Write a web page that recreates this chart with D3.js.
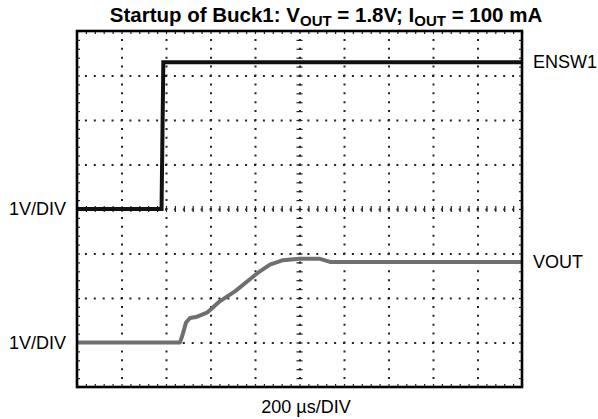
<!DOCTYPE html>
<html>
<head>
<meta charset="utf-8">
<script src="https://cdn.jsdelivr.net/npm/d3@7"></script>
<style>
  body { margin: 0; background: #fff; }
  svg { display: block; font-family: "Liberation Sans", Arial, sans-serif; }
</style>
</head>
<body>
<script>
// time axis in microseconds, 200 us per division
var timeTicks = [0, 200, 400, 600, 800, 1000, 1200, 1400, 1600, 1800, 2000];
// vertical divisions (1 V/DIV), centre line at 0
var divTicks = [-4, -3, -2, -1, 0, 1, 2, 3, 4];

// ENSW1 channel, ground marker on the centre line
var ensTime  = [0, 380, 388, 2000];
var ensVolts = [0, 0, 3.3, 3.3];
var ensOffset = 0;

// VOUT channel, ground marker three divisions below centre
var voutTime  = [0, 463, 476, 490, 508, 540, 584, 643, 710, 777, 822, 867, 926, 998, 1092, 1137, 2000];
var voutVolts = [0, 0, 0.2, 0.45, 0.55, 0.58, 0.67, 0.93, 1.15, 1.42, 1.6, 1.75, 1.85, 1.88, 1.88, 1.81, 1.81];
var voutOffset = -3;

var width = 598;
var height = 419;
var padLeft = 77, padRight = 522, padTop = 31, padBottom = 387;

var svg = d3.select("body").append("svg")
  .attr("width", width)
  .attr("height", height);

var xScale = d3.scaleLinear().domain([0, 2000]).range([padLeft, padRight]);
var yScale = d3.scaleLinear().domain([-4, 4]).range([padBottom, padTop]);

var plotW = padRight - padLeft;
var plotH = padBottom - padTop;
var minorX = (xScale(200) - xScale(0)) / 5;
var minorY = (yScale(0) - yScale(1)) / 5;

// dotted graticule
var gridX = svg.append("g")
  .attr("transform", "translate(0," + padBottom + ")")
  .call(d3.axisBottom(xScale).tickValues(timeTicks.slice(1, -1)).tickSize(-plotH).tickFormat(""));
gridX.select(".domain").remove();
gridX.selectAll("line")
  .attr("stroke", "#222")
  .attr("stroke-width", 2)
  .attr("stroke-dasharray", "2," + (minorY - 2))
  .attr("stroke-dashoffset", 1);

var gridY = svg.append("g")
  .attr("transform", "translate(" + padLeft + ",0)")
  .call(d3.axisLeft(yScale).tickValues(divTicks.slice(1, -1)).tickSize(-plotW).tickFormat(""));
gridY.select(".domain").remove();
gridY.selectAll("line")
  .attr("stroke", "#222")
  .attr("stroke-width", 2)
  .attr("stroke-dasharray", "2," + (minorX - 2))
  .attr("stroke-dashoffset", 1);

// minor ticks on centre lines and borders
var minorTime = d3.range(0, 2001, 40);
var minorDiv = d3.range(-4, 4.001, 0.2);

function tickStyle(g) {
  g.select(".domain").remove();
  g.selectAll("line").attr("stroke", "#222").attr("stroke-width", 1.2);
}

svg.append("g")
  .attr("transform", "translate(0," + (yScale(0) + 3) + ")")
  .call(d3.axisTop(xScale).tickValues(minorTime).tickSize(6).tickFormat(""))
  .call(tickStyle);
svg.append("g")
  .attr("transform", "translate(" + (xScale(1000) - 3) + ",0)")
  .call(d3.axisRight(yScale).tickValues(minorDiv).tickSize(6).tickFormat(""))
  .call(tickStyle);
svg.append("g")
  .attr("transform", "translate(0," + padBottom + ")")
  .call(d3.axisTop(xScale).tickValues(minorTime).tickSize(3).tickFormat(""))
  .call(tickStyle);
svg.append("g")
  .attr("transform", "translate(0," + padTop + ")")
  .call(d3.axisBottom(xScale).tickValues(minorTime).tickSize(3).tickFormat(""))
  .call(tickStyle);
svg.append("g")
  .attr("transform", "translate(" + padLeft + ",0)")
  .call(d3.axisRight(yScale).tickValues(minorDiv).tickSize(3).tickFormat(""))
  .call(tickStyle);
svg.append("g")
  .attr("transform", "translate(" + padRight + ",0)")
  .call(d3.axisLeft(yScale).tickValues(minorDiv).tickSize(3).tickFormat(""))
  .call(tickStyle);

// traces
var ensData = ensTime.map((t, i) => [t, ensVolts[i] + ensOffset]);
var voutData = voutTime.map((t, i) => [t, voutVolts[i] + voutOffset]);

var line = d3.line()
  .x(d => xScale(d[0]))
  .y(d => yScale(d[1]));

svg.append("path")
  .datum(voutData)
  .attr("d", line)
  .attr("fill", "none")
  .attr("stroke", "#6f6f6f")
  .attr("stroke-width", 4)
  .attr("stroke-linejoin", "round");

svg.append("path")
  .datum(ensData)
  .attr("d", line)
  .attr("fill", "none")
  .attr("stroke", "#111")
  .attr("stroke-width", 4);

// frame
svg.append("rect")
  .attr("x", xScale(0))
  .attr("y", yScale(4))
  .attr("width", plotW)
  .attr("height", plotH)
  .attr("fill", "none")
  .attr("stroke", "#000")
  .attr("stroke-width", 2.6);

// channel labels
svg.append("text")
  .attr("x", 66).attr("y", yScale(ensOffset))
  .attr("text-anchor", "end").attr("dominant-baseline", "central")
  .attr("font-size", 18)
  .text("1V/DIV");
svg.append("text")
  .attr("x", 66).attr("y", yScale(voutOffset))
  .attr("text-anchor", "end").attr("dominant-baseline", "central")
  .attr("font-size", 18)
  .text("1V/DIV");
svg.append("text")
  .attr("x", 533).attr("y", yScale(3.3 + ensOffset))
  .attr("dominant-baseline", "central")
  .attr("font-size", 18)
  .text("ENSW1");
svg.append("text")
  .attr("x", 533).attr("y", yScale(1.8 + voutOffset))
  .attr("dominant-baseline", "central")
  .attr("font-size", 18)
  .text("VOUT");

svg.append("text")
  .attr("x", 306).attr("y", 413)
  .attr("text-anchor", "middle")
  .attr("font-size", 18)
  .text("200 \u00b5s/DIV");

// title with subscripts
var title = svg.append("text")
  .attr("x", 326).attr("y", 22)
  .attr("text-anchor", "middle")
  .attr("font-size", 20.5)
  .attr("font-weight", "bold");
title.append("tspan").text("Startup of Buck1: V");
title.append("tspan").attr("dy", 4).attr("font-size", 15).text("OUT");
title.append("tspan").attr("dy", -4).text(" = 1.8V; I");
title.append("tspan").attr("dy", 4).attr("font-size", 15).text("OUT");
title.append("tspan").attr("dy", -4).text(" = 100 mA");
</script>
</body>
</html>
